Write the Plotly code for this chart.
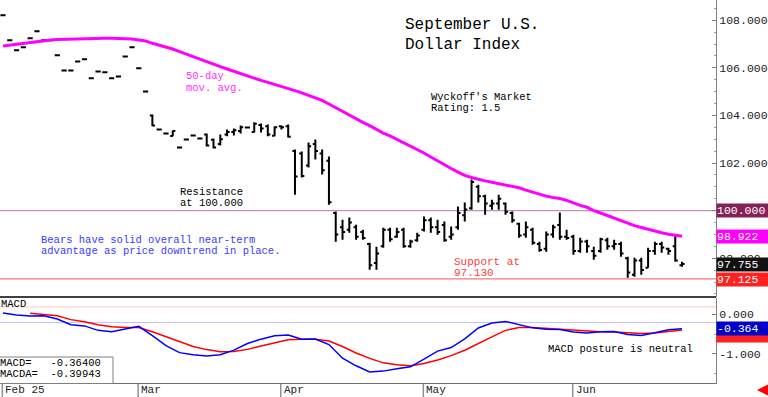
import plotly.graph_objects as go

# ---------------- data ----------------
opens = [108.21,107.16,106.74,106.86,107.24,107.54,107.16,107.16,106.53,105.89,
         105.89,106.27,106.36,105.56,105.85,105.81,105.56,105.64,106.48,106.86,
         105.98,105.01,104.00,103.41,103.24,103.14,102.65,102.99,103.16,103.03,
         103.20,102.98,102.80,103.20,103.30,103.35,103.49,103.30,103.60,103.55,
         103.15,103.55,103.55,102.50,102.40,101.90,102.80,102.40,102.10,99.90,
         99.30,99.20,99.30,99.10,98.60,97.80,98.50,99.20,98.90,99.20,
         98.50,98.75,99.20,99.60,99.30,99.40,98.90,99.30,99.80,100.10,
         101.00,100.60,100.20,100.30,100.30,99.90,99.45,99.00,99.20,98.60,
         98.40,99.00,99.40,98.90,98.90,98.30,98.70,98.30,98.30,98.75,
         98.50,98.60,98.00,97.30,97.90,97.60,98.30,98.60,98.40,98.50,
         97.70]
highs = [108.21,107.16,106.74,106.86,107.24,107.54,107.16,107.16,106.53,105.89,
         105.89,106.27,106.36,105.56,105.85,105.81,105.56,105.64,106.48,106.86,
         105.98,105.01,104.04,103.41,103.24,103.37,102.65,102.99,103.16,103.03,
         103.24,103.03,103.20,103.41,103.45,103.58,103.49,103.71,103.66,103.62,
         103.54,103.58,103.62,102.57,102.48,102.86,102.99,102.57,102.27,99.96,
         99.62,99.71,99.41,99.20,98.65,98.48,99.28,99.28,99.28,99.28,
         98.78,99.07,99.75,99.71,99.62,99.54,99.33,100.17,100.34,101.31,
         101.09,100.67,100.46,100.67,100.34,99.96,99.49,99.54,99.28,98.69,
         99.12,99.41,99.92,99.20,98.99,98.86,98.78,98.48,98.86,98.86,
         98.78,98.69,98.06,98.02,98.02,98.44,98.69,98.69,98.44,98.99,
         97.85]
lows = [108.21,107.16,106.74,106.86,107.24,107.54,107.16,107.16,106.53,105.89,
        105.89,106.27,106.36,105.56,105.85,105.81,105.56,105.64,106.48,106.86,
        105.98,105.01,103.54,103.41,103.24,103.12,102.65,102.99,103.16,103.03,
        102.69,102.61,102.74,103.12,103.16,103.24,103.49,103.28,103.28,103.12,
        103.12,103.41,103.07,100.67,101.39,101.81,102.15,101.52,100.25,98.69,
        98.78,99.07,98.78,98.78,97.52,97.52,98.44,98.69,98.86,98.44,
        98.44,98.69,99.12,99.07,98.99,98.69,98.78,99.20,99.54,100.04,
        100.34,99.83,100.04,100.04,99.83,99.49,98.86,98.86,98.57,98.27,
        98.27,98.86,98.78,98.78,98.15,98.23,98.23,97.94,98.23,98.36,
        98.36,98.06,97.18,97.22,97.31,97.60,98.15,98.23,98.15,97.85,
        97.64]
closes = [108.21,107.16,106.74,106.86,107.24,107.54,107.16,107.16,106.53,105.89,
          105.89,106.27,106.36,105.56,105.85,105.81,105.56,105.64,106.48,106.86,
          105.98,105.01,103.58,103.41,103.24,103.35,102.65,102.99,103.16,103.03,
          102.74,102.65,103.00,103.30,103.38,103.50,103.49,103.65,103.45,103.20,
          103.50,103.50,103.10,101.43,101.45,102.70,102.50,101.70,100.35,99.00,
          99.10,99.50,98.90,98.85,97.70,98.20,99.20,98.80,99.10,98.50,
          98.70,98.95,99.60,99.30,99.10,98.75,99.00,99.90,100.05,101.20,
          100.60,100.30,100.30,100.50,99.95,99.60,98.95,99.30,98.65,98.35,
          99.00,99.30,98.90,98.85,98.30,98.70,98.50,98.10,98.80,98.50,
          98.60,98.20,97.40,97.90,97.50,98.30,98.60,98.45,98.30,97.90,
          97.755]
ma50 = [106.92,106.96,106.99,107.02,107.06,107.09,107.16,107.17,107.19,107.20,
        107.22,107.23,107.24,107.24,107.24,107.24,107.24,107.24,107.23,107.21,
        107.17,107.13,107.03,106.95,106.88,106.79,106.68,106.57,106.46,106.36,
        106.27,106.16,106.05,105.95,105.85,105.76,105.66,105.56,105.47,105.39,
        105.31,105.21,105.12,105.04,104.95,104.85,104.75,104.63,104.48,104.32,
        104.16,104.00,103.85,103.71,103.57,103.41,103.26,103.14,103.00,102.86,
        102.72,102.57,102.42,102.25,102.08,101.92,101.77,101.62,101.48,101.39,
        101.31,101.25,101.19,101.13,101.07,101.03,100.96,100.86,100.77,100.70,
        100.61,100.55,100.51,100.43,100.32,100.22,100.14,100.00,99.90,99.79,
        99.68,99.59,99.45,99.37,99.29,99.21,99.14,99.07,99.01,98.96,
        98.922]
macd = [0.028,-0.02,-0.043,-0.041,-0.122,-0.265,-0.295,-0.407,-0.44,-0.382,
        -0.305,-0.539,-0.789,-0.967,-1.023,-1.051,-1.018,-0.903,-0.738,-0.628,
        -0.542,-0.522,-0.628,-0.626,-0.763,-1.107,-1.298,-1.455,-1.432,-1.374,
        -1.323,-1.132,-0.929,-0.840,-0.623,-0.346,-0.224,-0.183,-0.254,-0.344,
        -0.377,-0.387,-0.448,-0.471,-0.443,-0.433,-0.509,-0.534,-0.466,-0.389,
        -0.364]
macda = [0.023,-0.008,-0.038,-0.137,-0.188,-0.265,-0.313,-0.338,-0.338,
         -0.443,-0.567,-0.697,-0.814,-0.891,-0.947,-0.941,-0.885,-0.802,-0.723,
         -0.644,-0.628,-0.628,-0.674,-0.812,-0.977,-1.112,-1.224,-1.272,-1.298,
         -1.242,-1.150,-1.043,-0.908,-0.733,-0.570,-0.407,-0.338,-0.338,-0.361,
         -0.377,-0.397,-0.427,-0.440,-0.450,-0.473,-0.489,-0.471,-0.433,-0.39943]
macd_x = list(range(0, 101, 2))
macda_x = list(range(4, 101, 2))

month_labels = ["Feb 25", "Mar", "Apr", "May", "Jun"]
month_start_idx = [0, 20, 41, 62, 84]
price_ticks = [98, 100, 102, 104, 106, 108]
price_tick_text = ["98.000", "", "102.000", "104.000", "106.000", "108.000"]
macd_ticks = [0, -1]
macd_tick_text = ["0.000", "-1.000"]
resistance = 100.000
support = 97.130
support_label = 97.125
macd_upper_ref = 0.185
macd_lower_ref = -0.21

# ---------------- layout helpers ----------------
W, H = 768, 397
FONT = "Liberation Mono"


def px(x):
    return x / W


def py(y):
    return 1 - y / H


PLOT_R = px(716)
idx = list(range(len(opens)))
XR = [-0.44, 105.0]

fig = go.Figure()
fig.add_trace(go.Ohlc(
    x=idx, open=opens, high=highs, low=lows, close=closes,
    increasing=dict(line=dict(color="black", width=2)),
    decreasing=dict(line=dict(color="black", width=2)),
    tickwidth=0.38, xaxis="x", yaxis="y", showlegend=False, hoverinfo="skip"))
fig.add_trace(go.Scatter(x=idx, y=ma50, mode="lines",
                         line=dict(color="#FF00FF", width=3),
                         xaxis="x", yaxis="y", showlegend=False))
fig.add_trace(go.Scatter(x=macda_x, y=macda, mode="lines",
                         line=dict(color="#FF0000", width=1.5),
                         xaxis="x2", yaxis="y2", showlegend=False))
fig.add_trace(go.Scatter(x=macd_x, y=macd, mode="lines",
                         line=dict(color="#0000FF", width=1.5),
                         xaxis="x2", yaxis="y2", showlegend=False))

shapes = []
shapes.append(dict(type="line", xref="paper", yref="y", x0=0, x1=PLOT_R,
                   y0=resistance, y1=resistance, line=dict(color="#C890B8", width=1.2), layer="below"))
shapes.append(dict(type="line", xref="paper", yref="y", x0=0, x1=PLOT_R,
                   y0=support, y1=support, line=dict(color="#F07878", width=1.2), layer="below"))
shapes.append(dict(type="line", xref="paper", yref="y2", x0=0, x1=PLOT_R,
                   y0=macd_upper_ref, y1=macd_upper_ref, line=dict(color="#FFC8C8", width=1), layer="below"))
shapes.append(dict(type="line", xref="paper", yref="y2", x0=0, x1=PLOT_R,
                   y0=macd_lower_ref, y1=macd_lower_ref, line=dict(color="#C0C0FF", width=1), layer="below"))
shapes.append(dict(type="line", xref="paper", yref="paper", x0=0, x1=PLOT_R,
                   y0=py(297), y1=py(297), line=dict(color="#404040", width=2)))
shapes.append(dict(type="line", xref="paper", yref="paper", x0=px(113), x1=PLOT_R,
                   y0=py(383.5), y1=py(383.5), line=dict(color="#707070", width=1)))
shapes.append(dict(type="rect", xref="paper", yref="paper", x0=-0.01, x1=px(113),
                   y0=py(383.5), y1=py(357), fillcolor="white",
                   line=dict(color="#808080", width=1)))
for i in month_start_idx:
    shapes.append(dict(type="line", xref="x2", yref="paper", x0=i - 0.1, x1=i - 0.1,
                       y0=py(384), y1=0, line=dict(color="#909090", width=1.5)))

annotations = []


def txt(x, y, s, color="black", size=10.5):
    annotations.append(dict(xref="paper", yref="paper", x=px(x), y=py(y), text=s,
                            showarrow=False, xanchor="left", yanchor="middle",
                            font=dict(family=FONT, size=size, color=color)))


txt(403, 25, "September U.S.", size=16)
txt(403, 45, "Dollar Index", size=16)
txt(184, 76, "50-day", color="#FF30FF")
txt(184, 88, "mov. avg.", color="#FF30FF")
txt(429, 97, "Wyckoff's Market")
txt(429, 108, "Rating: 1.5")
txt(178, 192, "Resistance")
txt(178, 203, "at 100.000")
txt(39, 240, "Bears have solid overall near-term", color="#3A3AFF")
txt(39, 251, "advantage as price downtrend in place.", color="#3A3AFF")
txt(452, 262, "Support at", color="#FF4040", size=11)
txt(452, 273, "97.130", color="#FF4040", size=11)
txt(546, 349, "MACD posture is neutral")
txt(-1, 304, "MACD")
txt(-2, 363, f"MACD=   {macd[-1]:.5f}")
txt(-2, 374, f"MACDA=  {macda[-1]:.5f}")

for lab, i in zip(month_labels, month_start_idx):
    annotations.append(dict(xref="x2", yref="paper", x=i - 0.1, y=py(390), text=lab,
                            showarrow=False, xanchor="left", yanchor="middle", xshift=1,
                            font=dict(family=FONT, size=11, color="#222")))


def vbox(yref, val, text, bg, yshift=0):
    annotations.append(dict(xref="paper", yref=yref, x=PLOT_R, y=val, text=text,
                            showarrow=False, xanchor="left", yanchor="middle",
                            bgcolor=bg, width=52, height=13, align="left",
                            borderpad=0, yshift=yshift,
                            font=dict(family=FONT, size=11.5, color="white")))


vbox("y", resistance, f"{resistance:.3f}", "#862058")
vbox("y", ma50[-1], f"{ma50[-1]:.3f}", "#FF00FF")
vbox("y", closes[-1], f"{closes[-1]:.3f}", "#111111")
vbox("y", support_label, f"{support_label:.3f}", "#FF2020")
vbox("y2", macda[-1], " ", "#FF2020", yshift=-5)
vbox("y2", macd[-1], f"{macd[-1]:.3f}", "#0000CC")

annotations.append(dict(xref="paper", yref="paper", x=px(757), y=py(390), ax=10, ay=0,
                        text="", showarrow=True, arrowhead=2, arrowsize=0.9,
                        arrowwidth=3, arrowcolor="#FF0000"))

axis_font = dict(family=FONT, size=11.5, color="#222")
common_y = dict(side="right", showgrid=False, zeroline=False, showline=True,
                linecolor="#808080", ticks="inside", ticklen=4, tickcolor="#808080",
                tickfont=axis_font, automargin=False,
                minor=dict(tick0=0, dtick=0.5, ticks="inside", ticklen=2, tickcolor="#A0A0A0"))
fig.update_layout(
    width=W, height=H, margin=dict(l=0, r=0, t=0, b=0, autoexpand=False),
    paper_bgcolor="white", plot_bgcolor="white", showlegend=False,
    xaxis=dict(domain=[0, PLOT_R], range=XR, anchor="y", visible=False,
               rangeslider=dict(visible=False)),
    xaxis2=dict(domain=[0, PLOT_R], range=XR, anchor="y2", visible=False),
    yaxis=dict(domain=[py(297), 1], range=[96.37, 108.85], anchor="x",
               tickvals=price_ticks, ticktext=price_tick_text, **common_y),
    yaxis2=dict(domain=[py(384), py(298)], range=[-1.756, 0.407], anchor="x2",
                tickvals=macd_ticks, ticktext=macd_tick_text, **common_y),
    shapes=shapes, annotations=annotations,
)

fig.write_html("out.html", config={"displayModeBar": False},
               post_script="document.body.style.margin='0';document.body.style.overflow='hidden';")
